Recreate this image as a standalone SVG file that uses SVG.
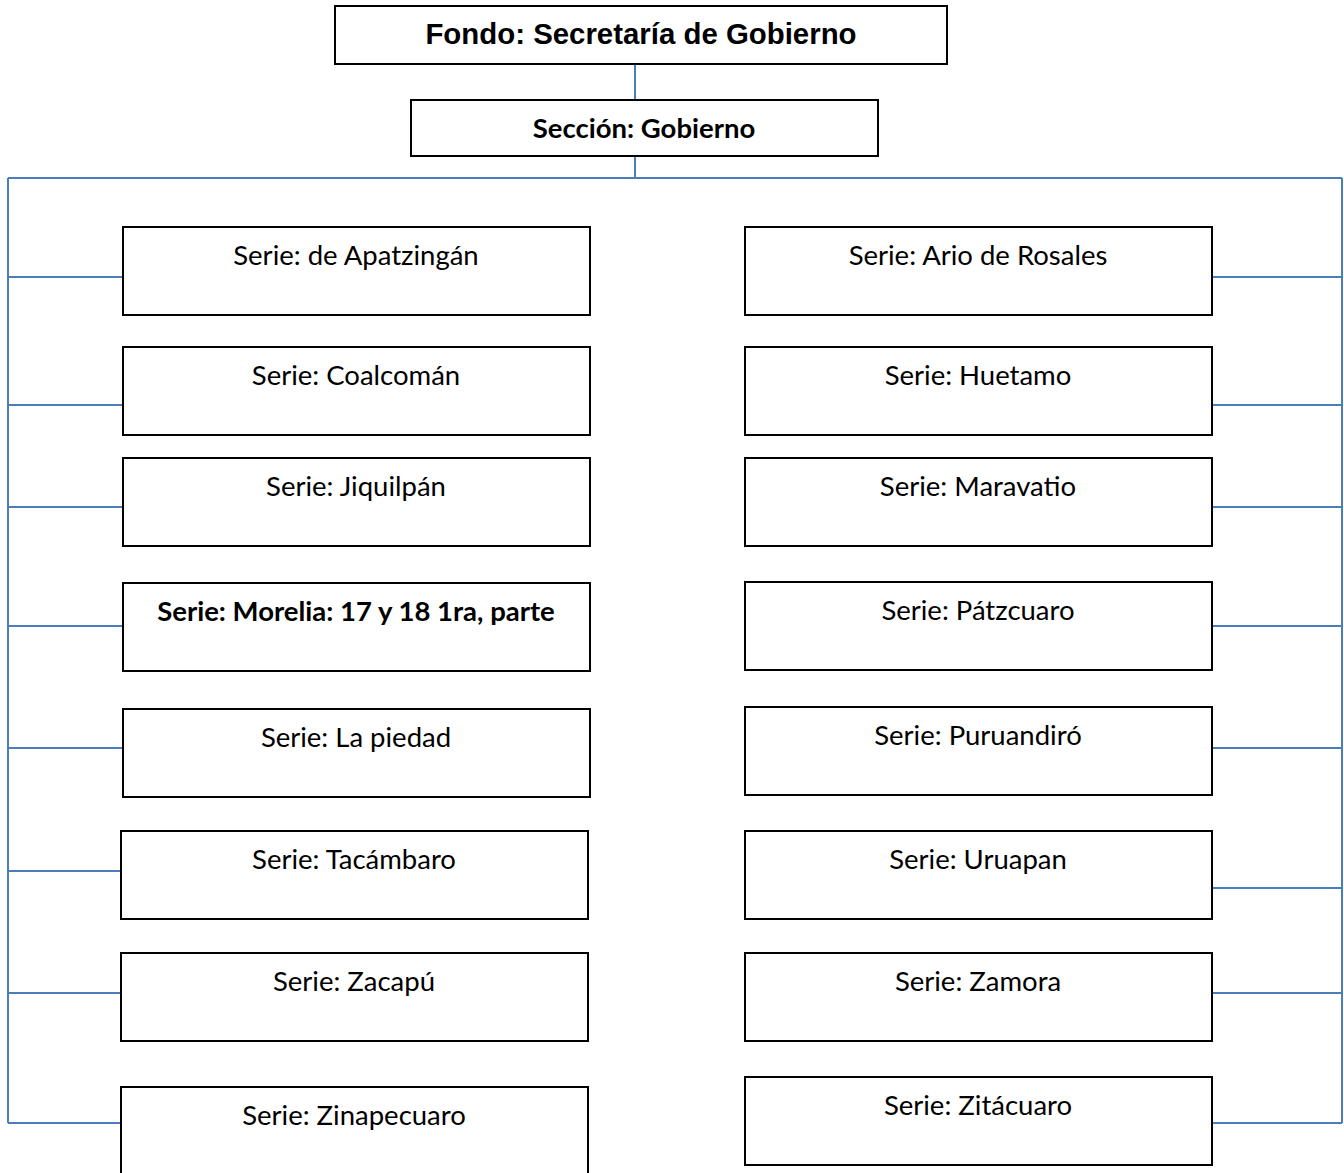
<svg xmlns="http://www.w3.org/2000/svg" width="1344" height="1173" viewBox="0 0 1344 1173">
<style>
.box{fill:#fff;stroke:#000;stroke-width:2}
.c{fill:none;stroke:#4a7ebb;stroke-width:2}
.t{font-family:Lato,"Open Sans",sans-serif;font-size:27.5px;fill:#000;text-anchor:middle}
.b{font-weight:bold}
.f{font-family:"Liberation Sans",Arial,sans-serif;font-size:29.4px;font-weight:bold;text-anchor:middle}
</style>
<rect width="1344" height="1173" fill="#fff"/>
<g id="connectors">
<path class="c" d="M635 64V100M635 156V178M8 178H1342M8 178V1123M1342 178V1123"/>
<path class="c" d="M8 277H123M8 405H123M8 507H123M8 626H123M8 748H123M8 871H121M8 993H121M8 1123H121"/>
<path class="c" d="M1212 277H1342M1212 405H1342M1212 507H1342M1212 626H1342M1212 748H1342M1212 888H1342M1212 993H1342M1212 1123H1342"/>
</g>
<g id="fondo"><rect class="box" x="335" y="6" width="612" height="58"/><text class="f" x="641" y="44">Fondo: Secretaría de Gobierno</text></g>
<g id="seccion"><rect class="box" x="411" y="100" width="467" height="56"/><text class="t b" x="644" y="138">Sección: Gobierno</text></g>
<g id="apatzingan"><rect class="box" x="123" y="227" width="467" height="88"/><text class="t" x="356" y="265">Serie: de Apatzingán</text></g>
<g id="coalcoman"><rect class="box" x="123" y="347" width="467" height="88"/><text class="t" x="356" y="385">Serie: Coalcomán</text></g>
<g id="jiquilpan"><rect class="box" x="123" y="458" width="467" height="88"/><text class="t" x="356" y="496">Serie: Jiquilpán</text></g>
<g id="morelia"><rect class="box" x="123" y="583" width="467" height="88"/><text class="t b" x="356" y="621">Serie: Morelia: 17 y 18 1ra, parte</text></g>
<g id="lapiedad"><rect class="box" x="123" y="709" width="467" height="88"/><text class="t" x="356" y="747">Serie: La piedad</text></g>
<g id="tacambaro"><rect class="box" x="121" y="831" width="467" height="88"/><text class="t" x="354" y="869">Serie: Tacámbaro</text></g>
<g id="zacapu"><rect class="box" x="121" y="953" width="467" height="88"/><text class="t" x="354" y="991">Serie: Zacapú</text></g>
<g id="zinapecuaro"><rect class="box" x="121" y="1087" width="467" height="100"/><text class="t" x="354" y="1125">Serie: Zinapecuaro</text></g>
<g id="ario"><rect class="box" x="745" y="227" width="467" height="88"/><text class="t" x="978" y="265">Serie: Ario de Rosales</text></g>
<g id="huetamo"><rect class="box" x="745" y="347" width="467" height="88"/><text class="t" x="978" y="385">Serie: Huetamo</text></g>
<g id="maravatio"><rect class="box" x="745" y="458" width="467" height="88"/><text class="t" x="978" y="496">Serie: Maravatio</text></g>
<g id="patzcuaro"><rect class="box" x="745" y="582" width="467" height="88"/><text class="t" x="978" y="620">Serie: Pátzcuaro</text></g>
<g id="puruandiro"><rect class="box" x="745" y="707" width="467" height="88"/><text class="t" x="978" y="745">Serie: Puruandiró</text></g>
<g id="uruapan"><rect class="box" x="745" y="831" width="467" height="88"/><text class="t" x="978" y="869">Serie: Uruapan</text></g>
<g id="zamora"><rect class="box" x="745" y="953" width="467" height="88"/><text class="t" x="978" y="991">Serie: Zamora</text></g>
<g id="zitacuaro"><rect class="box" x="745" y="1077" width="467" height="88"/><text class="t" x="978" y="1115">Serie: Zitácuaro</text></g>
</svg>
